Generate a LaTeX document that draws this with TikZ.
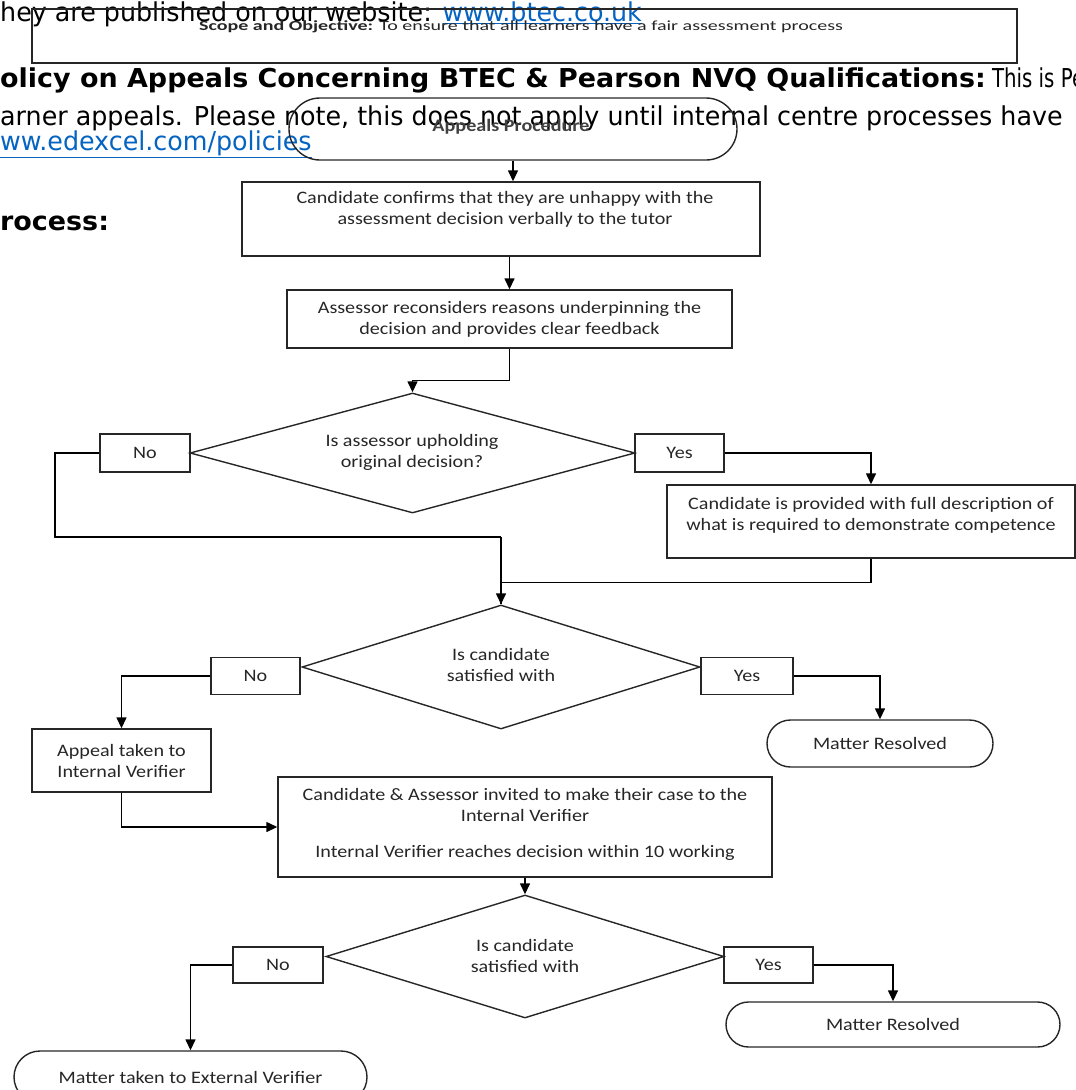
\documentclass[tikz,border=0pt]{standalone}
\usepackage{fontspec}
\setmainfont[FakeStretch=1.15]{Carlito}
\newfontfamily\scopefont[FakeStretch=1.43]{Carlito}
\newfontfamily\bgfont[FakeStretch=0.975]{DejaVu Sans}
\newfontfamily\bgnarrow[FakeStretch=0.76]{DejaVu Sans}
\newfontfamily\bgbold[FakeStretch=1.036]{DejaVu Sans}
\usetikzlibrary{arrows.meta,shapes.geometric,shapes.misc}
\definecolor{linkblue}{RGB}{5,99,193}
\begin{document}
\begin{tikzpicture}[x=1pt,y=-1pt,
  bgtext/.style={inner sep=0pt, anchor=base west, font=\bgfont\fontsize{26}{30}\selectfont},
  ftext/.style={inner sep=0pt, align=center, font=\fontsize{17.5}{21}\selectfont, text=black!85},
  box/.style={draw=black!85, line width=1.4pt, rectangle, inner sep=0pt},
  term/.style={draw=black!85, line width=1.4pt, rounded rectangle, inner sep=0pt},
  dec/.style={draw=black!85, line width=1.4pt, diamond, inner sep=0pt},
  conn/.style={draw=black, line width=1.4pt},
  arr/.style={conn, -{Triangle[length=11pt,width=10pt]}}
]
\useasboundingbox (0,0) rectangle (1076,1090);
% background document text
\node[bgtext] (l1) at (0,21) {hey are published on our website: \textcolor{linkblue}{\underline{www.btec.co.uk}}};
\node[bgtext] (l2) at (0,87) {{\bgbold\bfseries olicy on Appeals Concerning BTEC \& Pearson NVQ Qualifications:}{\bgnarrow\ This is Pe}};
\node[bgtext] (l3) at (0,125) {arner appeals. Please note, this does not apply until internal centre processes have};
\node[bgtext] (l4) at (0,150) {\textcolor{linkblue}{\underline{ww.edexcel.com/policies}}};
\node[bgtext] (l5) at (0,230) {{\bgbold\bfseries rocess:}};
% scope box
\node[box, minimum width=985, minimum height=54] (scope) at (524.5,36) {};
\node[ftext, font=\scopefont\fontsize{14}{16}\selectfont] (scopet) at (521,27) {\textbf{Scope and Objective:} To ensure that all learners have a fair assessment process};
% flow
\node[term, minimum width=448, minimum height=62] (ap) at (513,129) {};
\node[ftext, font=\bfseries\fontsize{17.5}{21}\selectfont, text=black!75] (apt) at (511,127) {Appeals Procedure};
\node[box, minimum width=518, minimum height=74] (b1) at (501,219) {};
\node[ftext] (b1t) at (505,209) {Candidate confirms that they are unhappy with the\\assessment decision verbally to the tutor};
\node[box, minimum width=445, minimum height=58, ftext] (b2) at (509.5,319) {Assessor reconsiders reasons underpinning the\\decision and provides clear feedback};
\node[dec, minimum width=445, minimum height=120] (d1) at (412.5,453) {};
\node[ftext] (d1t) at (412,452) {Is assessor upholding\\original decision?};
\node[box, minimum width=90, minimum height=38, ftext] (no1) at (145,453) {No};
\node[box, minimum width=89, minimum height=38, ftext] (yes1) at (679.5,453) {Yes};
\node[box, minimum width=408, minimum height=73] (b3) at (871,521.5) {};
\node[ftext] (b3t) at (871,515) {Candidate is provided with full description of\\what is required to demonstrate competence};
\node[dec, minimum width=398, minimum height=124] (d2) at (501,667) {};
\node[ftext] (d2t) at (501,665) {Is candidate\\satisfied with};
\node[box, minimum width=89, minimum height=37, ftext] (no2) at (255.5,676) {No};
\node[box, minimum width=92, minimum height=37, ftext] (yes2) at (747,676) {Yes};
\node[box, minimum width=179, minimum height=63, ftext] (b4) at (121.5,760.5) {Appeal taken to\\Internal Verifier};
\node[term, minimum width=226, minimum height=47, ftext] (mr1) at (880,743.5) {Matter Resolved};
\node[box, minimum width=494, minimum height=100] (b5) at (525,827) {};
\node[ftext] (b5t) at (525,804.5) {Candidate \& Assessor invited to make their case to the\\Internal Verifier};
\node[ftext] (b5u) at (525,853) {Internal Verifier reaches decision within 10 working};
\node[dec, minimum width=398, minimum height=123] (d3) at (525,956.5) {};
\node[ftext] (d3t) at (525,956) {Is candidate\\satisfied with};
\node[box, minimum width=90, minimum height=36, ftext] (no3) at (278,965) {No};
\node[box, minimum width=89, minimum height=36, ftext] (yes3) at (768.5,965) {Yes};
\node[term, minimum width=334, minimum height=45, ftext] (mr2) at (893,1024.5) {Matter Resolved};
\node[term, minimum width=353, minimum height=52, ftext] (ext) at (190.5,1077) {Matter taken to External Verifier};
% connectors
\draw[arr] (ap.south) -- (b1.north -| ap.south);
\draw[arr] (b1.south -| b2.north) -- (b2.north);
\draw[arr] (b2.south) -- ++(0,32) -| (d1.north);
\coordinate (j1) at (55,537);
\draw[conn] (no1.west) -| (j1) -- (j1 -| d2.north);
\draw[arr] (j1 -| d2.north) -- (d2.north);
\draw[arr] (yes1.east) -| (b3.north);
\draw[conn] (b3.south) -- ++(0,24) -| (d2.north);
\draw[arr] (no2.west) -| (b4.north);
\draw[arr] (yes2.east) -| (mr1.north);
\draw[arr] (b4.south) |- (b5.west);
\draw[arr] (b5.south -| d3.north) -- (d3.north);
\draw[arr] (no3.west) -| (ext.north);
\draw[arr] (yes3.east) -| (mr2.north);
\end{tikzpicture}
\end{document}
